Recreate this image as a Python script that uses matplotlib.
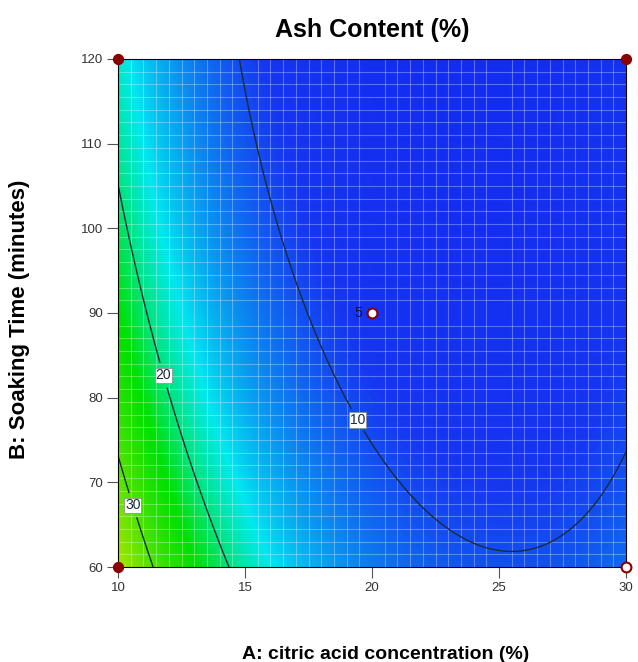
import numpy as np
import matplotlib
matplotlib.use("Agg")
import matplotlib.pyplot as plt
from matplotlib.colors import LinearSegmentedColormap

plt.rcParams["font.family"] = ["Liberation Sans", "DejaVu Sans"]

# ==== DATA ====
# factor ranges
a_range = [10, 30]     # A: citric acid concentration (%)
b_range = [60, 120]    # B: soaking time (minutes)

# quadratic model for ln(ash), coded factors: const, A, B, AB, A^2, B^2
model_terms = ["const", "A", "B", "AB", "A2", "B2"]
model_coef = [2.1445, -0.4855, -0.2650, 0.1101, 0.5349, 0.0810]

contour_levels = [10, 20, 30]
label_pos_a = [19.5, 11.85, 10.8]
label_pos_b = [77.5, 82.7, 67.5]

# design points
filled_a = [10, 10, 30]
filled_b = [60, 120, 120]
open_a = [30, 20]
open_b = [60, 90]
center_reps = "5"

x_ticks = [10, 15, 20, 25, 30]
y_ticks = [60, 70, 80, 90, 100, 110, 120]

# colour ramp (value, colour)
ramp_values = [3, 9, 16.5, 23.5, 42, 50]
ramp_colors = ["#1020f0", "#1535f0", "#00e8f0", "#00e000", "#e8e800", "#e80000"]


def ash(a, b):
    x = (a - np.mean(a_range)) / (np.diff(a_range)[0] / 2)
    z = (b - np.mean(b_range)) / (np.diff(b_range)[0] / 2)
    c = model_coef
    return np.exp(c[0] + c[1]*x + c[2]*z + c[3]*x*z + c[4]*x**2 + c[5]*z**2)


# ==== PLOT ====
fig = plt.figure(figsize=(6.38, 6.62), dpi=100)
ax = fig.add_axes([0.185, 0.1435, 0.7962, 0.7674])

A, B = np.meshgrid(np.linspace(*a_range, 300), np.linspace(*b_range, 300))
Z = ash(A, B)
vmin, vmax = ramp_values[0], ramp_values[-1]
cmap = LinearSegmentedColormap.from_list(
    "de", [((v - vmin) / (vmax - vmin), c) for v, c in zip(ramp_values, ramp_colors)])
ax.pcolormesh(A, B, Z, cmap=cmap, vmin=vmin, vmax=vmax, shading="gouraud")

cs = ax.contour(A, B, Z, levels=contour_levels, colors="#1a2a3a", linewidths=1)
lab = ax.clabel(cs, fmt="%d", fontsize=10, manual=list(zip(label_pos_a, label_pos_b)), inline=True)
for t in lab:
    t.set_rotation(0)
    t.set_bbox(dict(facecolor="white", edgecolor="#888888", pad=0.5, linewidth=0.5))

# faint mesh grid over the surface
ax.set_xticks(np.arange(a_range[0], a_range[1] + 0.01, 0.5), minor=True)
ax.set_yticks(np.arange(b_range[0], b_range[1] + 0.01, 1.5), minor=True)
ax.grid(which="minor", color="white", alpha=0.3, linewidth=0.8)
ax.tick_params(which="minor", length=0)

ax.set_xlim(*a_range)
ax.set_ylim(*b_range)
ax.set_xticks(x_ticks)
ax.set_yticks(y_ticks)
ax.tick_params(labelsize=9.5, labelcolor="#333333", length=8, width=0.8,
               color="#555555", pad=3)

ax.scatter(filled_a, filled_b, s=50, color="#8b0000", zorder=5, clip_on=False)
ax.scatter(open_a, open_b, s=50, facecolor="white", edgecolor="#8b0000",
           linewidth=1.5, zorder=5, clip_on=False)
ax.text(open_a[1] - 0.4, open_b[1], center_reps, ha="right", va="center",
        fontsize=10, color="#111133")

ax.set_title("Ash Content (%)", fontsize=18, fontweight="bold", pad=16)
ax.set_xlabel("A: citric acid concentration (%)", fontsize=14, fontweight="bold")
ax.xaxis.set_label_coords(0.526, -0.155)
ax.set_ylabel("B: Soaking Time (minutes)", fontsize=16, fontweight="bold")
ax.yaxis.set_label_coords(-0.174, 0.488)

fig.savefig("out.png", dpi=100)
